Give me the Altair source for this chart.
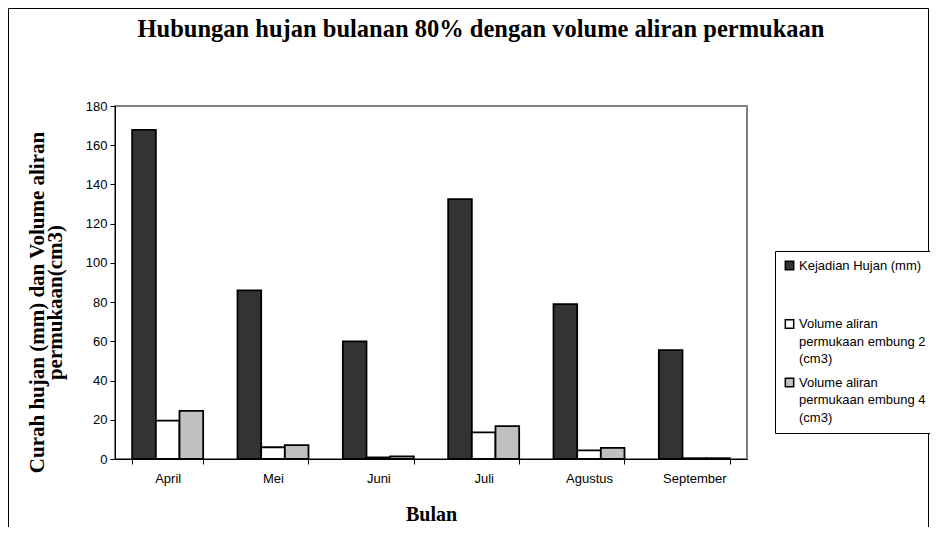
import altair as alt
import pandas as pd

months = ["April", "Mei", "Juni", "Juli", "Agustus", "September"]
series = [
    "Kejadian Hujan (mm)",
    "Volume aliran permukaan embung 2 (cm3)",
    "Volume aliran permukaan embung 4 (cm3)",
]
hujan = [167.8, 86.0, 60.0, 132.5, 79.0, 55.5]
embung2 = [19.6, 6.0, 0.8, 13.6, 4.4, 0.4]
embung4 = [24.5, 7.1, 1.3, 16.8, 5.7, 0.4]
colors = ["#333333", "#FFFFFF", "#C0C0C0"]
yticks = [0, 20, 40, 60, 80, 100, 120, 140, 160, 180]

rows = []
for i, m in enumerate(months):
    for s, vals in zip(series, [hujan, embung2, embung4]):
        rows.append({"Bulan": m, "Seri": s, "Nilai": vals[i]})
df = pd.DataFrame(rows)

label_expr = (
    "datum.label == 'Kejadian Hujan (mm)' ? ['Kejadian Hujan (mm)', '', ''] : "
    "datum.label == 'Volume aliran permukaan embung 2 (cm3)' ? "
    "['Volume aliran', 'permukaan embung 2', '(cm3)'] : "
    "['Volume aliran', 'permukaan embung 4', '(cm3)']"
)

bars = alt.Chart(df).mark_bar(stroke="black", strokeWidth=1.8).encode(
    x=alt.X(
        "Bulan:N",
        sort=months,
        scale=alt.Scale(paddingInner=0.326, paddingOuter=0.163),
        axis=alt.Axis(
            title="Bulan",
            labelAngle=0,
            tickBand="extent",
            tickSize=5,
            tickColor="black",
            domainColor="black",
            labelFont="Liberation Sans",
            labelFontSize=13,
            labelColor="black",
            labelPadding=8,
            titleFont="Liberation Serif",
            titleFontSize=20,
            titleFontWeight="bold",
            titleColor="black",
            titleY=61,
            titleBaseline="alphabetic",
        ),
    ),
    xOffset=alt.XOffset("Seri:N", sort=series),
    y=alt.Y(
        "Nilai:Q",
        scale=alt.Scale(domain=[0, 180], nice=False),
        axis=alt.Axis(
            values=yticks,
            grid=False,
            title=["Curah hujan (mm) dan Volume aliran", "permukaan(cm3)"],
            titleFont="Liberation Serif",
            titleFontSize=21,
            titleFontWeight="bold",
            titleColor="black",
            titleLineHeight=18.5,
            titleBaseline="middle",
            titleX=-78,
            titleY=196,
            tickSize=5,
            tickColor="black",
            domainColor="black",
            labelFont="Liberation Sans",
            labelFontSize=13,
            labelColor="black",
            labelPadding=3,
        ),
    ),
    color=alt.Color(
        "Seri:N",
        scale=alt.Scale(domain=series, range=colors),
        legend=alt.Legend(
            title=None,
            orient="none",
            legendX=660,
            legendY=145,
            direction="vertical",
            symbolType="square",
            symbolSize=70,
            symbolStrokeColor="black",
            symbolStrokeWidth=1.5,
            labelFont="Liberation Sans",
            labelFontSize=13,
            labelColor="black",
            labelExpr=label_expr,
            labelBaseline="middle",
            labelLimit=400,
            labelOffset=3,
            strokeColor="black",
            fillColor="white",
            padding=8,
            rowPadding=8.5,
        ),
    ),
)

frame = alt.Chart(alt.Data(values=[{"k": 1}])).mark_rect(
    filled=False, stroke="black", strokeWidth=1
).encode(
    x=alt.value(-106.5), x2=alt.value(813.5), y=alt.value(-97.5), y2=alt.value(700)
)

chart = alt.layer(frame, bars).properties(
    width=632,
    height=353,
    autosize=alt.AutoSizeParams(type="none"),
    padding={"left": 107, "top": 98, "right": 183, "bottom": 68},
    title=alt.Title(
        "Hubungan  hujan bulanan  80% dengan volume aliran permukaan",
        font="Liberation Serif",
        fontSize=24.5,
        fontWeight="bold",
        color="black",
        anchor="middle",
        frame="group",
        dx=50,
        offset=-34,
    ),
).configure(
    background="white",
    view=alt.ViewConfig(stroke="#808080", strokeWidth=2),
    style={"guide-label": {"lineHeight": 17.5}},
)

chart.save("out.html", embed_options={"renderer": "svg", "actions": False})
